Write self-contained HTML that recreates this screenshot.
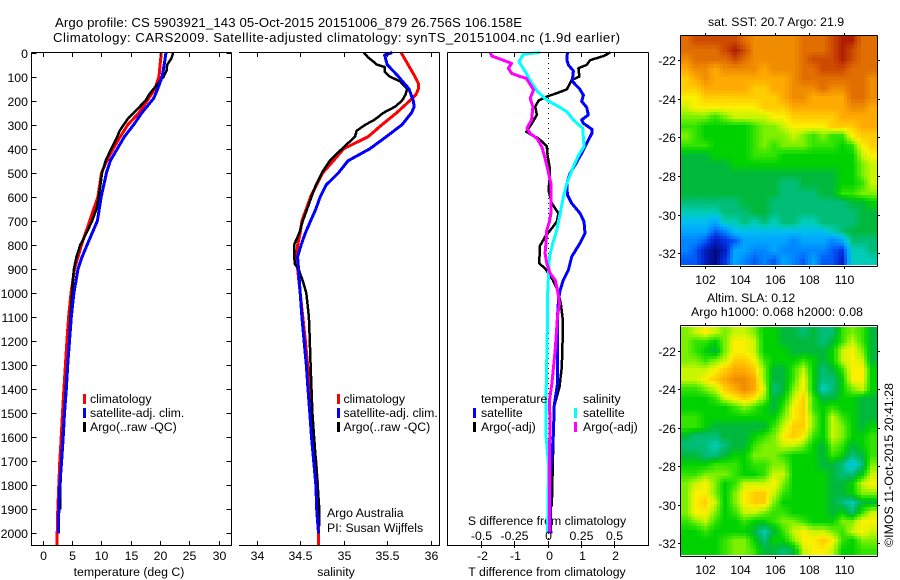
<!DOCTYPE html>
<html>
<head>
<meta charset="utf-8">
<title>Argo profile</title>
<style>
html,body{margin:0;padding:0;background:#fff;}
svg{display:block;}
text{font-family:"Liberation Sans",sans-serif;font-size:12.3px;fill:#000;}
text.main-title{font-size:13.2px;}
</style>
</head>
<body>
<svg id="chart" xmlns="http://www.w3.org/2000/svg" width="900" height="580" viewBox="0 0 900 580">
<text class="main-title" x="55" y="27" textLength="467" lengthAdjust="spacing">Argo profile: CS 5903921_143 05-Oct-2015 20151006_879 26.756S 106.158E</text>
<text class="main-title" x="53" y="42" textLength="567" lengthAdjust="spacing">Climatology: CARS2009. Satellite-adjusted climatology: synTS_20151004.nc (1.9d earlier)</text>
<text x="129" y="576" text-anchor="middle">temperature (deg C)</text>
<text x="336" y="576" text-anchor="middle">salinity</text>
<text x="547" y="576" text-anchor="middle">T difference from climatology</text>
<text x="547" y="525" text-anchor="middle">S difference from climatology</text>
<text x="708" y="26">sat. SST: 20.7 Argo: 21.9</text>
<text x="707" y="302">Altim. SLA: 0.12</text>
<text x="691" y="316" textLength="172" lengthAdjust="spacing">Argo h1000: 0.068 h2000: 0.08</text>
<text transform="translate(893,547) rotate(-90)" textLength="164" lengthAdjust="spacing">©IMOS 11-Oct-2015 20:41:28</text>
<text x="327" y="517">Argo Australia</text>
<text x="327" y="532">PI: Susan Wijffels</text>
<g id="plots"></g>
</svg>
<script>
// ---------- chart data ----------
const depthTicks = [0,100,200,300,400,500,600,700,800,900,1000,1100,1200,1300,1400,1500,1600,1700,1800,1900,2000];
const tempTicks = [0,5,10,15,20,25,30];
const salTicks = [34,34.5,35,35.5,36];
const tDiffTicks = [-2,-1,0,1,2];
const sDiffTicks = [-0.5,-0.25,0,0.25,0.5];
const lonTicks = [102,104,106,108,110];
const latTicks = [-22,-24,-26,-28,-30,-32];
const slaLatTicks = [-22,-24,-26,-28,-30,-32];

const tClimDepth = [0,50,100,150,200,250,300,350,400,450,500,600,700,800,900,1000,1100,1200,1300,1400,1500,1600,1700,1800,1900,2000,2050];
const tClim = [20.2,20.0,19.8,19.1,17.8,16.4,14.5,13.2,12.0,10.9,10.0,9.4,8.0,6.6,5.4,4.8,4.4,4.1,3.85,3.6,3.35,3.13,2.9,2.73,2.56,2.45,2.45];
const tSatDepth = [0,50,100,150,190,250,300,350,400,450,500,600,700,800,850,900,1000,1100,1200,1300,1400,1500,1600,1700,1800,1900,2000];
const tSat = [21.0,20.7,20.35,19.6,18.9,16.9,15.5,13.9,12.7,11.5,10.85,9.95,9.3,7.55,6.7,6.0,5.3,4.85,4.55,4.25,4.0,3.7,3.47,3.2,2.9,2.73,2.68];
const tArgoDepth = [0,10,25,50,75,100,150,175,200,225,250,275,300,325,350,400,450,500,600,650,700,750,800,850,900,950,1000,1100,1200,1300,1400,1500,1600,1700,1800,1900];
const tArgo = [22.2,22.1,21.9,21.2,21.1,20.6,18.9,18.1,17.5,16.5,15.5,14.5,13.8,13.1,12.7,11.65,10.7,10.1,9.55,9.15,8.4,7.45,6.4,5.75,5.3,5.1,5.0,4.7,4.5,4.2,3.9,3.65,3.4,3.15,3.0,2.95];

const sClimDepth = [0,50,100,130,150,175,200,250,300,350,400,450,500,550,600,650,700,750,800,850,900,1000,1100,1200,1300,1400,1500,1600,1700,1800,1900,2000,2050];
const sClim = [35.66,35.74,35.82,35.86,35.86,35.83,35.76,35.61,35.44,35.28,35.0,34.88,34.76,34.69,34.62,34.57,34.52,34.5,34.47,34.46,34.47,34.5,34.53,34.56,34.585,34.61,34.62,34.65,34.68,34.7,34.71,34.71,34.71];
const sSatDepth = [0,10,50,100,130,150,200,225,250,300,350,400,450,500,550,600,650,700,750,800,850,900,1000,1100,1200,1300,1400,1500,1600,1700,1800,1900,2000];
const sSat = [35.56,35.47,35.5,35.63,35.7,35.75,35.8,35.81,35.78,35.67,35.49,35.3,35.05,34.94,34.8,34.73,34.68,34.62,34.56,34.51,34.47,34.48,34.5,34.52,34.545,34.57,34.59,34.61,34.63,34.655,34.68,34.69,34.71];
const sArgoDepth = [0,20,40,50,60,80,100,120,150,175,200,225,250,280,300,325,350,400,450,500,550,600,650,700,750,800,850,880,900,950,1000,1100,1200,1300,1400,1500,1600,1700,1800,1900,1970];
const sArgo = [35.23,35.28,35.35,35.38,35.47,35.47,35.53,35.65,35.73,35.71,35.67,35.59,35.46,35.35,35.25,35.15,35.13,34.98,34.84,34.75,34.68,34.63,34.58,34.53,34.49,34.43,34.43,34.44,34.48,34.53,34.57,34.6,34.61,34.62,34.63,34.64,34.66,34.68,34.7,34.72,34.72];

const dtSatDepth = [0,31,51,76,103,121,153,177,203,228,259,280,294,319,335,377,419,467,502,544,592,627,668,703,752,793,849,904,946,988,1029,1098,1237,1376,1473,1583,1681,1750,1861,2000];
const dtSat = [0.6,0.58,0.63,0.78,0.76,0.76,0.98,1.08,1.03,1.18,1.23,1.03,1.08,1.34,1.34,1.18,1.03,0.83,0.68,0.58,0.6,0.73,0.98,1.1,1.13,0.98,0.73,0.63,0.48,0.38,0.33,0.3,0.3,0.3,0.2,0.18,0.13,0.08,0.08,0.1];
const dtArgoDepth = [0,14,31,51,65,100,114,153,169,183,200,225,259,294,329,343,357,389,426,474,530,572,627,669,703,731,766,807,849,877,898,919,946,988,1043,1112,1168,1307,1390,1473,1583,1889];
const dtArgo = [1.89,1.69,1.29,1.18,0.93,0.96,0.73,0.58,0.28,-0.02,-0.27,-0.37,-0.32,-0.47,-0.64,-0.47,-0.27,-0.02,0,0.06,0.06,0.03,0.13,0.33,0.28,0.13,-0.07,-0.24,-0.24,-0.25,-0.07,0.03,0.16,0.3,0.4,0.46,0.46,0.43,0.36,0.2,0.18,0.13];
const dsSatDepth = [0,6,37,86,121,162,197,225,246,280,315,391,426,474,544,600,669,738,793,849,919,1015,1112,1400,1600,1720,2000];
const dsSat = [-0.055,-0.18,-0.215,-0.16,-0.125,-0.075,-0.005,0.085,0.145,0.195,0.265,0.275,0.235,0.195,0.145,0.12,0.095,0.07,0.04,0.015,0.008,0,0,-0.01,-0.01,0.008,0];
const dsArgoDepth = [0,14,24,45,65,86,100,107,155,190,225,280,315,336,357,391,426,481,544,600,669,703,738,780,835,877,919,946,988,1043,1098,1237,1376,1445,1583,1625,2000];
const dsArgo = [-0.43,-0.42,-0.37,-0.27,-0.295,-0.27,-0.205,-0.16,-0.105,-0.13,-0.11,-0.12,-0.155,-0.13,-0.08,-0.043,-0.025,0,0.025,0.025,0.025,0.015,-0.005,-0.01,-0.018,-0.005,0.02,0.058,0.075,0.09,0.075,0.058,0.033,0.015,0.02,0.015,0.015];

// colour levels 0 (coldest / lowest) .. 20 (warmest / highest), read per map cell, north to south
const sstLevels = [
[18,19,19,19,19,19,18,17,17,17,17,17,18,18,18,19,20,20,18,18],
[18,18,18,18,19,20,19,17,17,17,17,17,18,18,18,19,20,19,18,18],
[17,18,18,18,18,19,18,17,17,17,17,17,18,19,19,19,20,19,18,18],
[16,17,17,16,17,17,17,17,16,17,17,17,18,18,19,19,19,18,18,18],
[15,16,17,16,16,16,16,16,16,16,16,17,18,18,18,18,18,18,18,17],
[15,15,16,16,16,16,16,15,15,16,16,17,17,17,18,17,17,18,18,17],
[14,14,15,15,15,15,15,15,15,15,16,17,17,16,16,16,16,18,18,17],
[13,14,14,14,14,14,14,14,15,15,15,16,16,16,16,16,16,17,17,16],
[12,12,12,11,12,13,13,13,13,14,14,15,15,15,15,15,16,16,16,16],
[11,11,10,10,10,10,10,11,12,12,13,14,14,14,14,15,15,15,16,16],
[12,11,10,10,10,10,10,11,12,12,12,13,12,11,12,11,11,14,15,15],
[11,11,11,10,10,10,10,11,12,11,12,12,12,11,11,11,10,11,14,15],
[9,9,9,10,10,10,10,11,11,11,10,10,10,10,10,10,10,10,13,14],
[9,9,9,9,9,10,10,10,10,10,10,10,10,10,10,10,10,10,12,13],
[9,9,9,9,9,9,9,9,9,9,9,9,9,9,9,9,10,10,12,13],
[9,9,9,9,9,9,9,9,9,9,8,8,9,9,9,9,10,10,11,13],
[9,9,9,9,9,9,9,9,9,9,8,8,8,8,9,9,11,11,12,12],
[8,8,8,8,8,8,9,9,9,8,8,8,8,8,8,8,8,9,9,10],
[7,7,7,7,8,8,8,9,9,8,8,8,8,8,8,8,8,8,9,9],
[6,6,6,5,7,7,8,7,8,7,8,8,7,7,8,8,8,8,9,9],
[5,5,5,3,4,6,6,6,6,6,6,6,6,6,6,7,8,9,9,9],
[4,4,3,1,2,3,5,5,5,5,5,4,5,5,5,4,5,8,8,8],
[4,3,1,0,1,5,5,4,4,5,4,4,4,4,4,3,2,7,7,8],
[3,3,1,0,2,5,4,3,4,3,5,4,3,5,3,3,1,7,7,7]
];
const slaLevels = [
[12,13,14,13,12,13,13,12,10,10,9,9,8,9,8,8,11,12,11,9],
[12,11,11,10,12,14,14,13,10,10,9,9,9,9,8,9,11,13,11,9],
[12,11,10,9,12,14,14,13,10,10,10,9,9,9,9,10,13,14,12,9],
[12,12,11,12,13,15,15,14,11,10,10,10,11,10,9,10,13,14,13,9],
[13,13,13,14,15,16,16,15,12,9,9,11,13,10,8,9,11,14,14,10],
[13,13,14,15,16,17,17,16,12,9,9,11,14,10,8,8,10,14,14,10],
[11,11,12,13,15,16,17,16,13,8,9,12,14,10,7,8,10,12,13,10],
[10,10,10,11,13,14,15,14,12,9,10,13,15,11,9,9,10,10,9,9],
[10,10,10,10,10,11,12,11,10,9,11,14,15,11,10,11,10,10,9,9],
[11,11,10,10,10,10,10,10,10,10,12,14,15,12,10,13,11,10,9,9],
[11,11,10,9,9,9,9,9,9,11,13,15,15,12,10,13,12,10,9,10],
[9,8,8,8,9,9,9,10,11,12,14,15,14,11,10,13,12,10,10,11],
[8,8,8,7,8,9,9,11,12,12,13,13,12,10,9,12,11,9,10,11],
[9,9,8,8,9,10,10,12,12,12,11,10,10,10,9,11,10,8,9,11],
[10,10,10,11,11,11,10,11,11,12,12,10,10,10,9,9,8,6,8,12],
[11,11,12,12,12,11,10,10,11,13,13,10,10,10,10,9,8,8,10,13],
[12,13,14,12,10,11,13,13,13,14,12,10,10,10,10,9,9,10,13,14],
[12,14,14,12,10,12,14,15,15,13,11,10,10,10,10,9,9,10,12,12],
[12,14,15,13,10,12,14,15,15,12,10,10,10,10,10,9,8,7,9,9],
[12,14,14,12,10,11,13,13,12,11,11,10,10,10,10,9,10,8,11,13],
[11,12,13,11,10,10,11,10,10,11,12,12,11,10,10,10,12,12,14,14],
[10,10,11,10,10,10,10,9,7,9,11,13,14,13,13,12,11,13,14,13],
[10,10,10,10,11,12,12,10,8,10,10,12,14,14,15,14,11,10,12,12],
[10,10,10,10,11,12,12,11,9,9,8,9,13,14,14,13,10,10,11,11]
];

// ---------- axis functions ----------
function depthY(d){ return 52.6 + 0.2404*d; }
function tempX(v){ return 42.8 + 5.867*v; }
function salX(v){ return 256.7 + 87*(v-34); }
function dtX(v){ return 547.5 + 33.2*v; }
function dsX(v){ return 547.5 + 132.8*v; }
function lonX(v){ return 705.3 + 17.33*(v-102); }
function sstLatY(v){ return 60 + 19.33*(-22-v); }
function slaLatY(v){ return 350.5 + 19.28*(-22-v); }

const NS = 'http://www.w3.org/2000/svg';
const root = document.getElementById('plots');
function mk(tag, attrs, parent){
  const el = document.createElementNS(NS, tag);
  for(const k in attrs){ el.setAttribute(k, attrs[k]); }
  (parent || root).appendChild(el);
  return el;
}
function seg(x1,y1,x2,y2,parent){
  return mk('line',{x1:x1,y1:y1,x2:x2,y2:y2,stroke:'#000','stroke-width':1,'shape-rendering':'crispEdges'},parent);
}
function lbl(x,y,s,anchor,parent){
  const t = mk('text',{x:x,y:y,'text-anchor':anchor||'middle'},parent);
  t.textContent = s;
  return t;
}
function group(name){
  const g = mk('g',{});
  
  
  return g;
}
function profile(name, depths, vals, xf, color, width){
  const pts = depths.map(function(d,i){ return xf(vals[i]).toFixed(1)+','+depthY(d).toFixed(1); }).join(' ');
  const p = mk('polyline',{points:pts,fill:'none',stroke:color,'stroke-width':width,'shape-rendering':'crispEdges','stroke-linejoin':'round'});
  
  
  return p;
}
function legendEntry(name, sx, tx, y, color, s){
  const g = group(name);
  mk('rect',{x:sx,y:y-9,width:3,height:10,fill:color,'shape-rendering':'crispEdges'},g);
  if(s){ lbl(tx,y,s,'start',g); }
}

// ---------- panel 1: temperature ----------
profile('temperature-climatology-line', tClimDepth, tClim, tempX, '#ff0000', 3);
profile('temperature-argo-line', tArgoDepth, tArgo, tempX, '#000000', 2.5);
profile('temperature-satellite-line', tSatDepth, tSat, tempX, '#0000ff', 3);
const frame1 = group('temperature-axes');
seg(31.5,52.5,231.5,52.5,frame1); seg(31.5,545.5,231.5,545.5,frame1);
seg(31.5,52.5,31.5,546,frame1); seg(231.5,52.5,231.5,546,frame1);
depthTicks.forEach(function(d){
  const y = Math.round(depthY(d))+0.5;
  seg(31.5,y,36.5,y,frame1); seg(226.5,y,231.5,y,frame1);
  lbl(28,y+4.5,String(d),'end',frame1);
});
tempTicks.forEach(function(v){
  const x = Math.round(tempX(v))+0.5;
  seg(x,52.5,x,57,frame1); seg(x,541,x,545.5,frame1);
  lbl(x,560,String(v),'middle',frame1);
});
legendEntry('legend-entry-climatology', 83, 90, 403, '#ff0000', 'climatology');
legendEntry('legend-entry-satellite-adj', 83, 90, 417, '#0000ff', 'satellite-adj. clim.');
legendEntry('legend-entry-argo', 83, 90, 431, '#000000', 'Argo(..raw -QC)');

// ---------- panel 2: salinity ----------
profile('salinity-climatology-line', sClimDepth, sClim, salX, '#ff0000', 3);
profile('salinity-argo-line', sArgoDepth, sArgo, salX, '#000000', 2.5);
profile('salinity-satellite-line', sSatDepth, sSat, salX, '#0000ff', 3);
const frame2 = group('salinity-axes');
seg(239,52.5,439.5,52.5,frame2); seg(239,545.5,439.5,545.5,frame2);
seg(439.5,52.5,439.5,546,frame2);
salTicks.forEach(function(v){
  const x = Math.round(salX(v))+0.5;
  seg(x,52.5,x,57,frame2); seg(x,541,x,545.5,frame2);
  lbl(x,560,String(v),'middle',frame2);
});
legendEntry('legend-entry-climatology-salinity', 337, 343.5, 403, '#ff0000', 'climatology');
legendEntry('legend-entry-satellite-adj-salinity', 337, 343.5, 417, '#0000ff', 'satellite-adj. clim.');
legendEntry('legend-entry-argo-salinity', 337, 343.5, 431, '#000000', 'Argo(..raw -QC)');

// ---------- panel 3: differences ----------
const zeroLine = mk('line',{x1:548.5,y1:53,x2:548.5,y2:545,stroke:'#000','stroke-width':1,'stroke-dasharray':'1 4','shape-rendering':'crispEdges'});


profile('t-difference-argo-line', dtArgoDepth, dtArgo, dtX, '#000000', 2.5);
profile('t-difference-satellite-line', dtSatDepth, dtSat, dtX, '#0000ff', 3);
profile('s-difference-satellite-line', dsSatDepth, dsSat, dsX, '#00ffff', 3);
profile('s-difference-argo-line', dsArgoDepth, dsArgo, dsX, '#ff00ff', 3);
const frame3 = group('difference-axes');
seg(447.5,52.5,648.5,52.5,frame3); seg(447.5,545.5,648.5,545.5,frame3);
seg(447.5,52.5,447.5,546,frame3); seg(648.5,52.5,648.5,546,frame3);
tDiffTicks.forEach(function(v){
  const x = Math.round(dtX(v))+0.5;
  seg(x,52.5,x,57,frame3); seg(x,541,x,548,frame3);
  lbl(x+1,560,String(v),'middle',frame3);
});
sDiffTicks.forEach(function(v){
  const x = Math.round(dsX(v))+0.5;
  lbl(x,540,String(v),'middle',frame3);
});
lbl(481,403,'temperature','start',frame3);
lbl(583,403,'salinity','start',frame3);
legendEntry('legend-entry-t-satellite', 473, 481, 417, '#0000ff', 'satellite');
legendEntry('legend-entry-t-argo', 473, 481, 431, '#000000', 'Argo(-adj)');
legendEntry('legend-entry-s-satellite', 574, 583, 417, '#00ffff', 'satellite');
legendEntry('legend-entry-s-argo', 574, 583, 431, '#ff00ff', 'Argo(-adj)');

// ---------- maps ----------
function levelColor(v){
  const stops = [
    [0,10,128],[0,30,190],[0,50,225],[0,90,245],[0,135,255],[0,165,255],[0,190,240],[0,205,185],[0,190,120],[0,185,60],
    [0,210,0],[50,228,0],[125,240,0],[200,245,0],[250,240,0],[255,205,0],[255,170,0],[240,140,0],[225,110,0],[205,75,0],[175,30,0]
  ];
  const c = Math.max(0, Math.min(20, v));
  const a = Math.floor(c), b = Math.min(20, a+1), f = c-a;
  const rgb = stops[a].map(function(s,i){ return Math.round(s+(stops[b][i]-s)*f); });
  return 'rgb('+rgb.join(',')+')';
}
// colour at a fractional grid position, blending the four surrounding map cells
function sampleLevels(levels, rf, cf){
  const nr = levels.length, nc = levels[0].length;
  const r = Math.max(0, Math.min(nr-1, rf-0.5)), c = Math.max(0, Math.min(nc-1, cf-0.5));
  const r0 = Math.floor(r), c0 = Math.floor(c);
  const r1 = Math.min(nr-1, r0+1), c1 = Math.min(nc-1, c0+1);
  const fr = r-r0, fc = c-c0;
  return (levels[r0][c0]*(1-fc)+levels[r0][c1]*fc)*(1-fr)+(levels[r1][c0]*(1-fc)+levels[r1][c1]*fc)*fr;
}
function drawMap(name, levels, latY, topLat, botLat){
  const g = group(name);
  const lon0 = 100.6, lon1 = 111.9, sub = 3;
  const nr = levels.length*sub, nc = levels[0].length*sub;
  for(let r=0;r<nr;r++){
    for(let c=0;c<nc;c++){
      const x0 = Math.round(lonX(lon0+(lon1-lon0)*c/nc)), x1 = Math.round(lonX(lon0+(lon1-lon0)*(c+1)/nc));
      const y0 = Math.round(latY(topLat+(botLat-topLat)*r/nr)), y1 = Math.round(latY(topLat+(botLat-topLat)*(r+1)/nr));
      const v = sampleLevels(levels,(r+0.5)/sub,(c+0.5)/sub);
      const cell = mk('rect',{x:x0,y:y0,width:x1-x0,height:y1-y0,fill:levelColor(v),'shape-rendering':'crispEdges'},g);
      
      
    }
  }
}
function drawMapFrame(name, top, bottom, latY, ticks, labelY){
  const g = group(name);
  seg(680.5,top,877.5,top,g); seg(680.5,bottom,877.5,bottom,g);
  seg(680.5,top,680.5,bottom,g); seg(877.5,top,877.5,bottom,g);
  ticks.forEach(function(v){
    const y = Math.round(latY(v))+0.5;
    seg(678,y,680.5,y,g); seg(877.5,y,880,y,g);
    lbl(676,y+4.5,String(v),'end',g);
  });
  lonTicks.forEach(function(v){
    const x = Math.round(lonX(v))+0.5;
    seg(x,top-2.5,x,top,g); seg(x,bottom,x,bottom+2.5,g);
    lbl(x,labelY,String(v),'middle',g);
  });
}
drawMap('sst-map', sstLevels, sstLatY, -20.75, -32.6);
drawMapFrame('sst-map-axes', 35.5, 266.5, sstLatY, latTicks, 284);
drawMap('sla-map', slaLevels, slaLatY, -20.8, -32.6);
drawMapFrame('sla-map-axes', 325.5, 556.5, slaLatY, slaLatTicks, 574);
</script>
</body>
</html>
